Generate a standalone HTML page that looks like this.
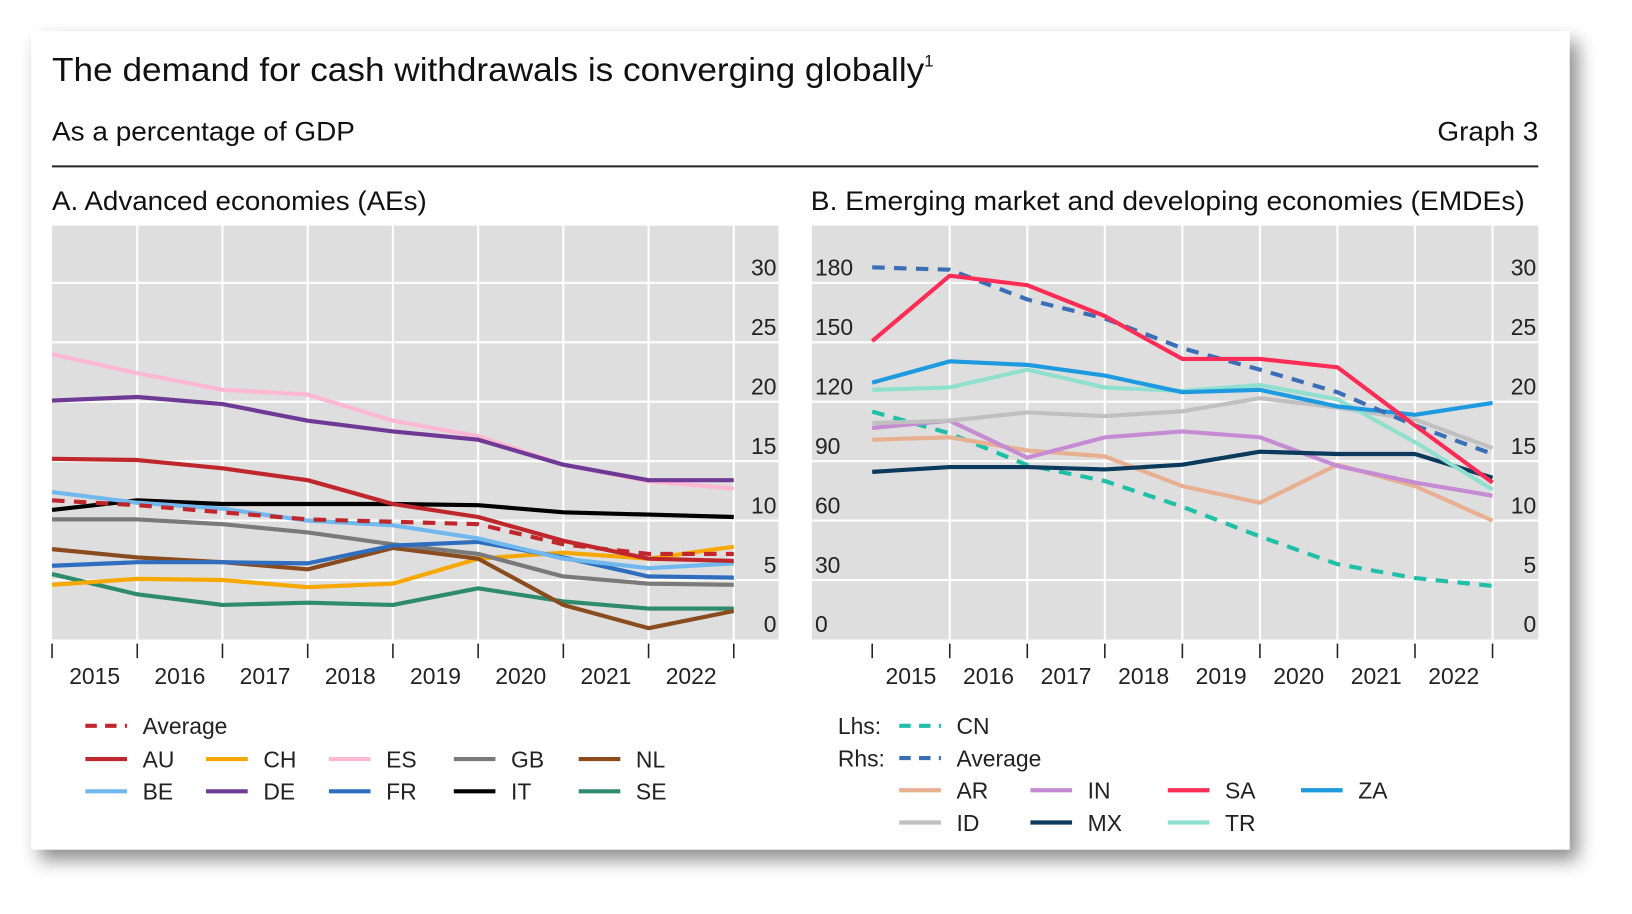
<!DOCTYPE html>
<html><head><meta charset="utf-8"><style>
html,body{margin:0;padding:0;background:#fff;}
svg{display:block;font-family:"Liberation Sans",sans-serif;}
</style></head><body>
<svg id="chart" width="1632" height="914" viewBox="0 0 1568 879" preserveAspectRatio="none" xmlns="http://www.w3.org/2000/svg">
<defs><filter id="sh" x="-5%" y="-5%" width="115%" height="120%"><feDropShadow dx="8" dy="10" stdDeviation="9" flood-color="#000" flood-opacity="0.45"/></filter></defs>
<rect x="30" y="30" width="1478" height="787" fill="#fff" filter="url(#sh)"/>
<text x="50" y="78" font-size="32" fill="#111"><tspan textLength="838" lengthAdjust="spacingAndGlyphs">The demand for cash withdrawals is converging globally</tspan><tspan font-size="16" dy="-14">1</tspan></text>
<text x="50" y="135" font-size="26" fill="#111" textLength="291" lengthAdjust="spacingAndGlyphs">As a percentage of GDP</text>
<text x="1381" y="135" font-size="26" fill="#111" textLength="97" lengthAdjust="spacingAndGlyphs">Graph 3</text>
<line x1="50" y1="160" x2="1478" y2="160" stroke="#222" stroke-width="2"/>
<text x="50" y="202" font-size="26" fill="#111" textLength="360" lengthAdjust="spacingAndGlyphs">A. Advanced economies (AEs)</text>
<text x="779" y="202" font-size="26" fill="#111" textLength="686" lengthAdjust="spacingAndGlyphs">B. Emerging market and developing economies (EMDEs)</text>
<g id="pa"></g><g id="pb"></g>
</svg>
<script>
const years = ["2015","2016","2017","2018","2019","2020","2021","2022"];
const rhsTicks = [0,5,10,15,20,25,30];
const lhsTicks = [0,30,60,90,120,150,180];
// Panel A series (% of GDP)
const aAU = [15.2,15.1,14.4,13.4,11.4,10.3,8.3,6.8,6.6];
const aAvg = [11.7,11.3,10.7,10.1,9.9,9.7,8.0,7.2,7.2];
const aCH = [4.6,5.1,5.0,4.4,4.7,6.8,7.3,6.8,7.8];
const aES = [24.0,22.4,21.0,20.6,18.4,17.1,14.7,13.3,12.7];
const aGB = [10.1,10.1,9.7,9.0,8.0,7.2,5.3,4.7,4.6];
const aNL = [7.6,6.9,6.5,5.9,7.7,6.8,2.9,0.95,2.4];
const aBE = [12.4,11.5,11.0,10.0,9.6,8.5,6.8,6.0,6.4];
const aDE = [20.1,20.4,19.8,18.4,17.5,16.8,14.7,13.4,13.4];
const aFR = [6.2,6.5,6.5,6.4,7.9,8.2,6.9,5.3,5.2];
const aIT = [10.9,11.7,11.4,11.4,11.4,11.3,10.7,10.5,10.3];
const aSE = [5.5,3.8,2.9,3.1,2.9,4.3,3.2,2.6,2.6];
// Panel B series
const bCN = [115,104,88,80,67,52,38,31,27]; // lhs
const bAvg = [31.3,31.1,28.6,27.0,24.5,22.7,20.8,18.0,15.6];
const bAR = [16.8,17.0,15.9,15.4,12.9,11.5,14.7,12.9,10.0];
const bIN = [17.8,18.4,15.3,17.0,17.5,17.0,14.6,13.2,12.1];
const bSA = [25.1,30.6,29.8,27.2,23.6,23.6,22.9,18.0,13.2];
const bZA = [21.6,23.4,23.1,22.2,20.8,21.0,19.6,18.9,19.9];
const bID = [18.2,18.4,19.1,18.8,19.2,20.3,19.5,18.5,16.1];
const bMX = [14.1,14.5,14.5,14.3,14.7,15.8,15.6,15.6,13.6];
const bTR = [21.0,21.2,22.7,21.2,20.9,21.4,20.2,16.6,12.6];

const NS="http://www.w3.org/2000/svg";
function mk(p,tag,at,txt){const e=document.createElementNS(NS,tag);for(const k in at)e.setAttribute(k,at[k]);if(txt!==undefined)e.textContent=txt;p.appendChild(e);return e;}
const Y0=615,Y30=272;
const yR=v=>Y0-(v/30)*(Y0-Y30);
const yL=v=>Y0-(v/180)*(Y0-Y30);

function panel(g,x0,x1,xs,xe,hasLhs,series,name){
  const bg=mk(g,'rect',{x:x0,y:217,width:x1-x0,height:398,fill:'#dedede'});
  
  
  const n=9,step=(xe-xs)/(n-1);
  const xAt=i=>xs+i*step;
  rhsTicks.forEach(t=>{
    if(t>0){const l=mk(g,'line',{x1:x0,x2:x1,y1:yR(t),y2:yR(t),stroke:'#fff','stroke-width':2});
    
    }
    const tx=mk(g,'text',{x:x1-2,y:yR(t)-7,'font-size':22,fill:'#222','text-anchor':'end'},String(t));
    
    
  });
  if(hasLhs){lhsTicks.forEach(t=>{
    const tx=mk(g,'text',{x:783,y:yL(t)-7,'font-size':22,fill:'#222'},String(t));
    
    
  });}
  for(let i=0;i<n;i++){
    if(i>0){const v=mk(g,'line',{x1:xAt(i),x2:xAt(i),y1:217,y2:615,stroke:'#fff','stroke-width':2});
    
    }
    const tk=mk(g,'line',{x1:xAt(i),x2:xAt(i),y1:619,y2:633,stroke:'#222','stroke-width':1.5});
    
    
  }
  years.forEach((yr,i)=>{
    const tx=mk(g,'text',{x:xAt(i)+step/2,y:658,'font-size':22,fill:'#222','text-anchor':'middle'},yr);
    
    
  });
  series.forEach(s=>{
    const f=s.lhs?yL:yR;
    const d=s.data.map((v,i)=>(i?'L':'M')+xAt(i).toFixed(1)+','+f(v).toFixed(1)).join(' ');
    const at={d:d,fill:'none',stroke:s.c,'stroke-width':4,'stroke-linejoin':'round'};
    if(s.dash)at['stroke-dasharray']='12,9';
    const p=mk(g,'path',at);
    
    
  });
}
const C={AU:'#c0272d',Avg:'#c0272d',CH:'#f7a800',ES:'#ffb8d2',GB:'#7a7a7a',NL:'#8a4b1f',BE:'#70b8ee',DE:'#6e3a96',FR:'#2f6dbf',IT:'#000',SE:'#2e8b6b',
CN:'#1fbfa8',BAvg:'#3a6fb8',AR:'#e8b090',IN:'#c58bd3',SA:'#ff2d55',ZA:'#1e9ae0',ID:'#c0c0c0',MX:'#0b3a5c',TR:'#8fe0cf'};
panel(document.getElementById('pa'),50,748,50,705,false,[
 {k:'ES',data:aES,c:C.ES},{k:'DE',data:aDE,c:C.DE},{k:'SE',data:aSE,c:C.SE},{k:'CH',data:aCH,c:C.CH},{k:'NL',data:aNL,c:C.NL},
 {k:'GB',data:aGB,c:C.GB},{k:'FR',data:aFR,c:C.FR},{k:'IT',data:aIT,c:C.IT},{k:'BE',data:aBE,c:C.BE},
 {k:'average-ae',data:aAvg,c:C.Avg,dash:1},{k:'AU',data:aAU,c:C.AU}],'panel-a');
panel(document.getElementById('pb'),780,1478,838,1434,true,[
 {k:'CN',data:bCN,c:C.CN,dash:1,lhs:1},{k:'AR',data:bAR,c:C.AR},{k:'IN',data:bIN,c:C.IN},{k:'ID',data:bID,c:C.ID},
 {k:'MX',data:bMX,c:C.MX},{k:'TR',data:bTR,c:C.TR},{k:'ZA',data:bZA,c:C.ZA},{k:'average-emde',data:bAvg,c:C.BAvg,dash:1},{k:'SA',data:bSA,c:C.SA}],'panel-b');

const svg=document.getElementById('chart');
function leg(x,y,label,c,dash){
  const g=mk(svg,'g',{});
  
  
  const at={x1:x,x2:x+40,y1:y,y2:y,stroke:c,'stroke-width':4};
  if(dash)at['stroke-dasharray']='11,8';
  mk(g,'line',at);
  mk(g,'text',{x:x+55,y:y+8,'font-size':22,fill:'#222'},label);
}
leg(82,698,'Average',C.Avg,1);
[['AU',82],['CH',198],['ES',316],['GB',436],['NL',556]].forEach(a=>leg(a[1],730,a[0],C[a[0]]));
[['BE',82],['DE',198],['FR',316],['IT',436],['SE',556]].forEach(a=>leg(a[1],761,a[0],C[a[0]]));
const l1=mk(svg,'text',{x:805,y:706,'font-size':22,fill:'#222'},'Lhs:');


const l2=mk(svg,'text',{x:805,y:737,'font-size':22,fill:'#222'},'Rhs:');


leg(864,698,'CN',C.CN,1);
leg(864,729,'Average',C.BAvg,1);
[['AR',864],['IN',990],['SA',1122],['ZA',1250]].forEach(a=>leg(a[1],760,a[0],C[a[0]]));
[['ID',864],['MX',990],['TR',1122]].forEach(a=>leg(a[1],791,a[0],C[a[0]]));
</script>
</body></html>
